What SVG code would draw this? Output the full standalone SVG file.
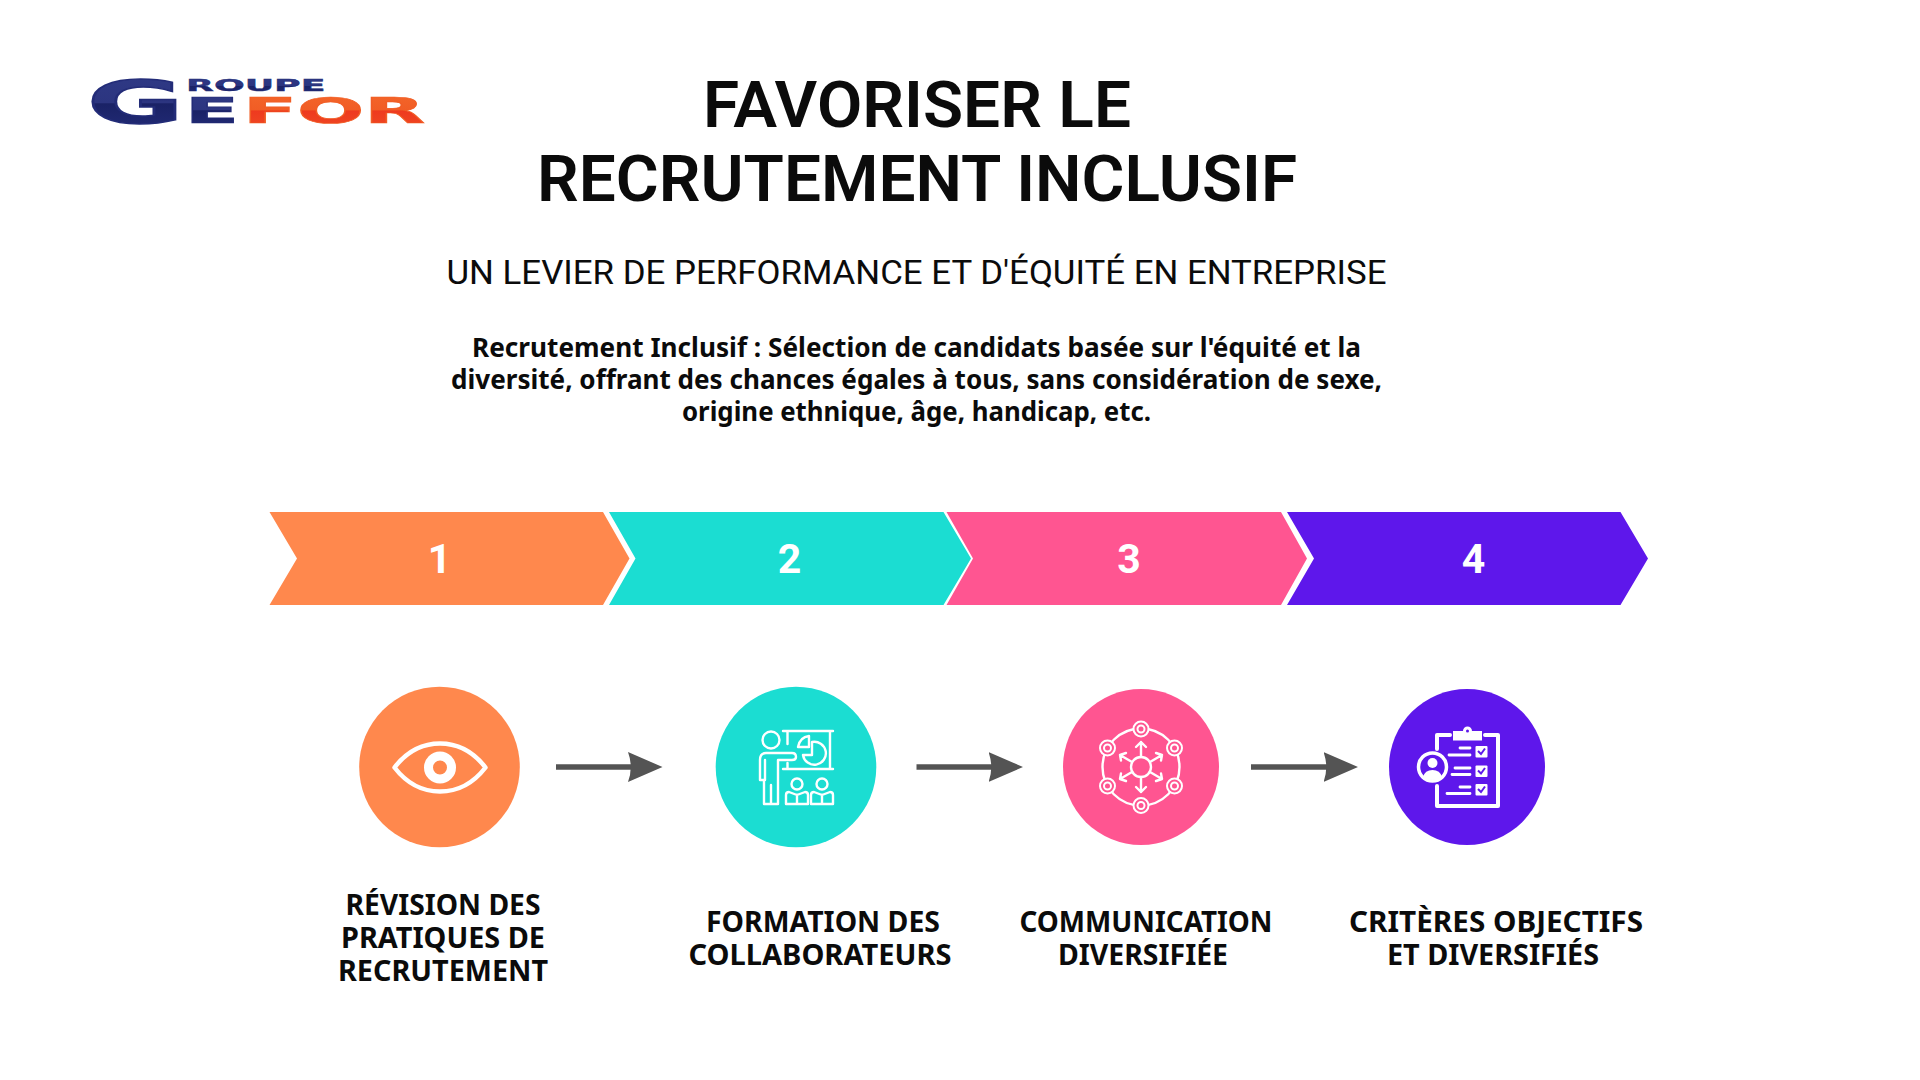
<svg xmlns="http://www.w3.org/2000/svg" width="1920" height="1080" viewBox="0 0 1920 1080">
<style>
.title{font-family:Roboto,"Liberation Sans",sans-serif;font-weight:600;font-size:64px;fill:#0b0b0b;text-anchor:middle}
.sub{font-family:Roboto,"Liberation Sans",sans-serif;font-weight:400;font-size:34px;fill:#0b0b0b;text-anchor:middle}
.body{font-family:"Noto Sans","Open Sans",sans-serif;font-weight:700;font-size:26px;fill:#0b0b0b;text-anchor:middle}
.label{font-family:"Noto Sans","Open Sans",sans-serif;font-weight:700;font-size:28px;fill:#0b0b0b;text-anchor:middle}
.num{font-family:Roboto,"Liberation Sans",sans-serif;font-weight:700;font-size:41px;fill:#fff;text-anchor:middle}
.logo{font-family:"DejaVu Sans",sans-serif;font-weight:700}
.ic{fill:none;stroke:#fff;stroke-width:2.400;stroke-linejoin:round;stroke-linecap:round}
.ic3{fill:none;stroke:#fff;stroke-width:4;stroke-linejoin:round;stroke-linecap:round}
.w{fill:#fff}
.arrow{stroke:#545454;stroke-width:5.500;fill:none;marker-end:url(#head)}
</style>
<defs>
<marker id="head" markerUnits="userSpaceOnUse" markerWidth="36" markerHeight="32" refX="4" refY="15.500" orient="auto">
<path d="M0 .5L34.500 15.500L0 30.500Q5.500 15.500 0 .5Z" fill="#545454"/>
</marker>
<linearGradient id="blue" x1="0" y1="0" x2="0" y2="1"><stop offset="0" stop-color="#2f3a86"/><stop offset=".5" stop-color="#2c3580"/><stop offset=".52" stop-color="#1a2266"/><stop offset="1" stop-color="#232c78"/></linearGradient>
<linearGradient id="red" x1="0" y1="0" x2="0" y2="1"><stop offset="0" stop-color="#f4672a"/><stop offset=".5" stop-color="#f15d25"/><stop offset=".52" stop-color="#ee3a1f"/><stop offset="1" stop-color="#ef4a22"/></linearGradient>
</defs>
<rect width="1920" height="1080" fill="#fff"/>

<g id="logo">
<text class="logo" transform="translate(87 122.500) scale(1.930 0.950)" font-size="61" fill="url(#blue)" stroke="#232c78" stroke-width="1.500">G</text>
<text class="logo" transform="translate(186 91) scale(1.640 0.780)" font-size="20" fill="url(#blue)" stroke="#232c78" stroke-width=".5" textLength="85" lengthAdjust="spacingAndGlyphs">ROUPE</text>
<text class="logo" transform="translate(185 122.500) scale(1.580 0.720)" font-size="50" fill="url(#blue)" stroke="#232c78" stroke-width="1">E</text>
<text class="logo" transform="translate(243 122.500) scale(1.370 0.720)" font-size="50" fill="url(#red)" stroke="#f15d25" stroke-width="1" textLength="133" lengthAdjust="spacingAndGlyphs">FOR</text>
</g>

<g id="header">
<text class="title" x="917" y="127" textLength="428" lengthAdjust="spacingAndGlyphs">FAVORISER LE</text>
<text class="title" x="917" y="201" textLength="760" lengthAdjust="spacingAndGlyphs">RECRUTEMENT INCLUSIF</text>
<text class="sub" x="916.500" y="284" textLength="940" lengthAdjust="spacingAndGlyphs">UN LEVIER DE PERFORMANCE ET D'ÉQUITÉ EN ENTREPRISE</text>
<text class="body" x="916.500" y="357" textLength="889" lengthAdjust="spacingAndGlyphs">Recrutement Inclusif : Sélection de candidats basée sur l'équité et la</text>
<text class="body" x="916.500" y="389" textLength="931" lengthAdjust="spacingAndGlyphs">diversité, offrant des chances égales à tous, sans considération de sexe,</text>
<text class="body" x="916.500" y="421" textLength="469" lengthAdjust="spacingAndGlyphs">origine ethnique, âge, handicap, etc.</text>
</g>

<g id="chevron-1"><path d="M269.500 512H603L629.500 558.500L603 605H269.500L297 558.500Z" fill="#FF884D"/><text class="num" x="439.500" y="573">1</text></g>
<g id="chevron-2"><path d="M609 512H943.500L971 558.500L943.500 605H609L635.500 558.500Z" fill="#1BDDD2"/><text class="num" x="789.500" y="573">2</text></g>
<g id="chevron-3"><path d="M946.500 512H1281L1307 558.500L1281 605H946.500L973 558.500Z" fill="#FF5591"/><text class="num" x="1129" y="573">3</text></g>
<g id="chevron-4"><path d="M1287 512H1620.500L1648 558.500L1620.500 605H1287L1314 558.500Z" fill="#5E17EB"/><text class="num" x="1473.500" y="573">4</text></g>

<g id="connectors">
<line class="arrow" x1="556" y1="767" x2="632" y2="767"/>
<line class="arrow" x1="916.500" y1="767" x2="992.500" y2="767"/>
<line class="arrow" x1="1251" y1="767" x2="1327.500" y2="767"/>
</g>

<g id="step-1">
<circle cx="439.500" cy="767" r="80.300" fill="#FF884D"/>
<path d="M394.500 767.500C408 750 423 743.500 440 743.500C457 743.500 472 750 485.500 767.500C472 785 457 791.500 440 791.500C423 791.500 408 785 394.500 767.500Z" fill="none" stroke="#fff" stroke-width="4.500" stroke-linejoin="round"/>
<circle cx="440" cy="767.500" r="11.500" fill="none" stroke="#fff" stroke-width="9"/>
<text class="label" x="443" y="915" textLength="195" lengthAdjust="spacingAndGlyphs">RÉVISION DES</text>
<text class="label" x="443" y="948" textLength="204" lengthAdjust="spacingAndGlyphs">PRATIQUES DE</text>
<text class="label" x="443" y="981" textLength="210" lengthAdjust="spacingAndGlyphs">RECRUTEMENT</text>
</g>

<g id="step-2">
<circle cx="796" cy="767" r="80.300" fill="#1BDDD2"/>
<g class="ic">
<circle cx="771" cy="740" r="8.500"/>
<path d="M783 731H833M783 769H833M787.500 731V744M787.500 763V769M830 731V769"/>
<path d="M760 780V760Q760 753 766 753H792Q796 753 796 757Q796 760 792 760H778V804H764V780H760M765 760V780M771 785V804"/>
<path d="M809 747V736Q800 737 798 747Z"/>
<path d="M812 742A11.500 11.500 0 1 1 803 755H812Z"/>
<circle cx="797" cy="784" r="5.500"/><path d="M786 804V795Q786 792 789 792L797 795L805 792Q808 792 808 795V804ZM797 795V804"/>
<circle cx="822" cy="784" r="5.500"/><path d="M811 804V795Q811 792 814 792L822 795L830 792Q833 792 833 795V804ZM822 795V804"/>
</g>
<text class="label" x="823" y="932" textLength="234" lengthAdjust="spacingAndGlyphs">FORMATION DES</text>
<text class="label" x="820" y="965" textLength="263" lengthAdjust="spacingAndGlyphs">COLLABORATEURS</text>
</g>

<g id="step-3">
<circle cx="1141" cy="767" r="78" fill="#FF5591"/>
<g class="ic">
<circle cx="1141" cy="767" r="38.500"/>
<circle cx="1141" cy="767" r="10"/>
</g>
<g fill="#FF5591" stroke="#fff" stroke-width="2">
<circle cx="1141" cy="729" r="7.500"/><circle cx="1141" cy="805.500" r="7.500"/>
<circle cx="1107.500" cy="748" r="7.500"/><circle cx="1174.500" cy="748" r="7.500"/>
<circle cx="1107.500" cy="786" r="7.500"/><circle cx="1174.500" cy="786" r="7.500"/>
<circle cx="1141" cy="729" r="3.500"/><circle cx="1141" cy="805.500" r="3.500"/>
<circle cx="1107.500" cy="748" r="3.500"/><circle cx="1174.500" cy="748" r="3.500"/>
<circle cx="1107.500" cy="786" r="3.500"/><circle cx="1174.500" cy="786" r="3.500"/>
</g>
<g class="ic">
<path d="M1141 757V742M1136 747L1141 742L1146 747"/>
<path d="M1141 777V792M1136 787L1141 792L1146 787"/>
<path d="M1132 762L1120 755M1121 760.500L1120 755L1126 753"/>
<path d="M1150 762L1162 755M1161 760.500L1162 755L1156 753"/>
<path d="M1132 772L1120 779M1121 773.500L1120 779L1126 781"/>
<path d="M1150 772L1162 779M1161 773.500L1162 779L1156 781"/>
</g>
<text class="label" x="1146" y="932" textLength="253" lengthAdjust="spacingAndGlyphs">COMMUNICATION</text>
<text class="label" x="1143" y="965" textLength="170" lengthAdjust="spacingAndGlyphs">DIVERSIFIÉE</text>
</g>

<g id="step-4">
<circle cx="1467" cy="767" r="78" fill="#5E17EB"/>
<path class="ic3" d="M1450 735H1437V749M1437 786V806H1498V735H1485"/>
<path class="w" d="M1453 731H1463A4 4 0 0 1 1472 731H1482V740.500H1453Z"/>
<circle cx="1467.500" cy="731" r="1.500" fill="#5E17EB"/>
<g stroke="#fff" stroke-width="2.800" stroke-linecap="round">
<path d="M1460 748H1470M1449 755H1470M1455 768H1470M1452 774.500H1470M1460 787H1470M1447 793.500H1470"/>
</g>
<g class="w"><rect x="1475.500" y="746" width="12" height="11.500" rx="1"/><rect x="1475.500" y="765.500" width="12" height="11.500" rx="1"/><rect x="1475.500" y="784" width="12" height="11.500" rx="1"/></g>
<g fill="none" stroke="#5E17EB" stroke-width="2"><path d="M1478 751L1481 754L1485 748.500"/><path d="M1478 770.500L1481 773.500L1485 768"/><path d="M1478 789L1481 792L1485 786.500"/></g>
<circle cx="1432.500" cy="767" r="14" fill="none" stroke="#fff" stroke-width="3.500"/>
<circle cx="1432.500" cy="763" r="5" fill="#fff"/>
<path class="w" d="M1423 777Q1425 770 1432.500 770Q1440 770 1442 777Q1438 780 1432.500 780Q1427 780 1423 777Z"/>
<text class="label" x="1496" y="932" textLength="294" lengthAdjust="spacingAndGlyphs">CRITÈRES OBJECTIFS</text>
<text class="label" x="1493" y="965" textLength="212" lengthAdjust="spacingAndGlyphs">ET DIVERSIFIÉS</text>
</g>
</svg>
